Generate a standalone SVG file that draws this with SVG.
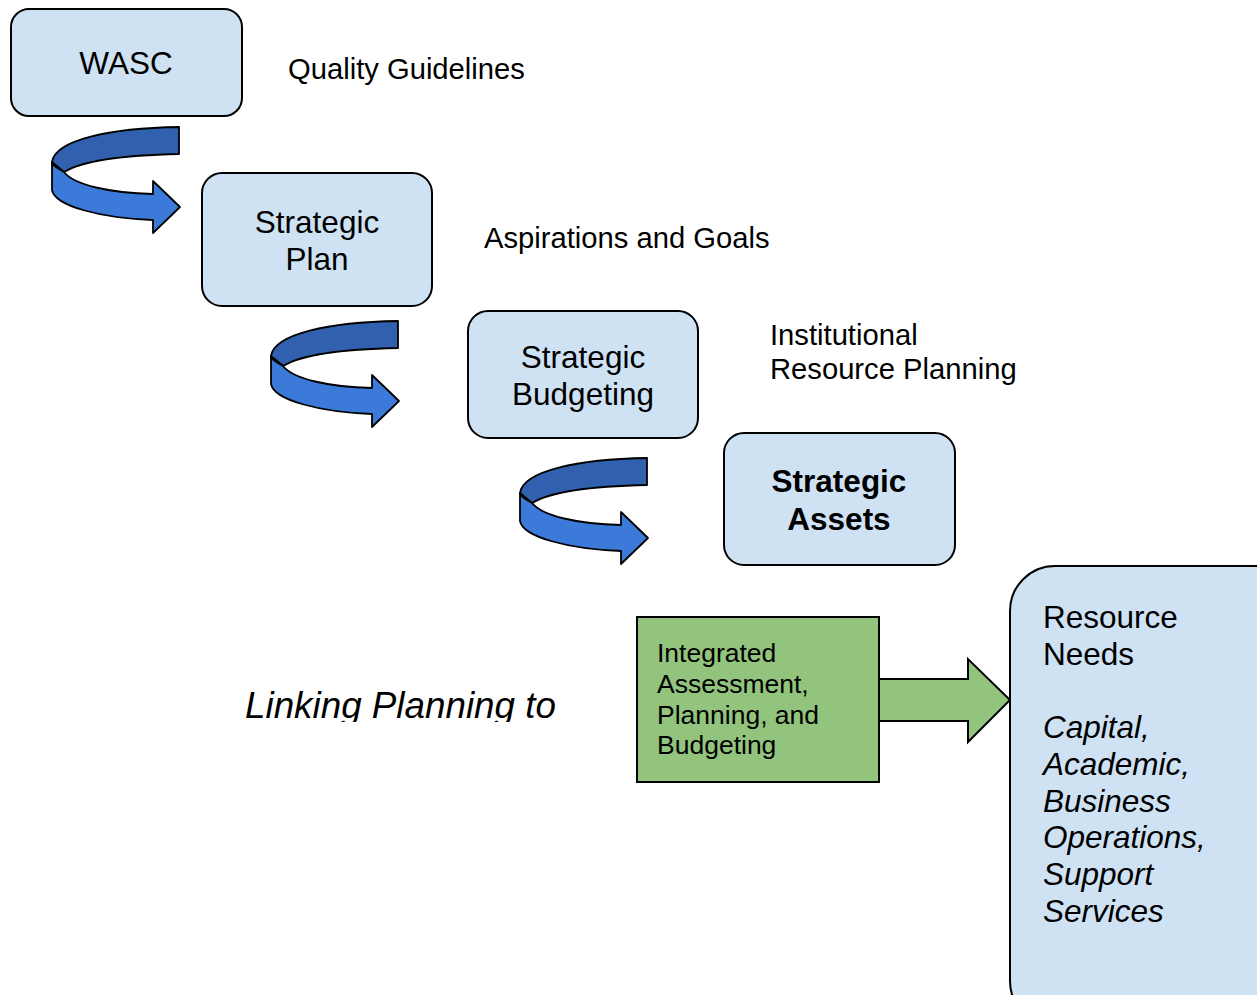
<svg xmlns="http://www.w3.org/2000/svg" xmlns:xlink="http://www.w3.org/1999/xlink" width="1257" height="995" viewBox="0 0 1257 995">
<style>
.box{fill:#cfe2f3;stroke:#000;stroke-width:2}
.t{font-family:"Liberation Sans",Arial,sans-serif;fill:#000}
.bt{font-size:31.5px;text-anchor:middle}
.lb{font-size:29.2px}
.dark{fill:#3060ae;stroke:#000;stroke-width:1.8;stroke-linejoin:round}
.light{fill:#3b7ad8;stroke:#000;stroke-width:1.8;stroke-linejoin:round}
</style>
<defs>
<g id="curl">
<path class="dark" d="M179,127 L179,154 C130,155 84,160 64,172 L52,162 C55,140 110,128 179,127 Z"/>
<path class="light" d="M52,162 L52,190 C55,206 100,218 153,220 L153,233 L180,207 L153,181 L153,194 C110,193 74,185 64,172 C58,168 52,166 52,162 Z"/>
</g>
<clipPath id="clipLink"><rect x="0" y="600" width="640" height="122"/></clipPath>
</defs>
<rect width="1257" height="995" fill="#fff"/>

<g id="connectors">
<use xlink:href="#curl"/>
<use xlink:href="#curl" transform="translate(219,194)"/>
<use xlink:href="#curl" transform="translate(468,331)"/>
<path d="M879,679 L968,679 L968,659 L1010,700 L968,742 L968,721 L879,721" fill="#93c47d" stroke="#000" stroke-width="2" stroke-linejoin="miter"/>
</g>

<g id="wasc">
<rect class="box" x="11" y="9" width="231" height="107" rx="18"/>
<text class="t bt" x="126" y="74">WASC</text>
</g>
<g id="label-quality">
<text class="t lb" x="288" y="79">Quality Guidelines</text>
</g>

<g id="strategic-plan">
<rect class="box" x="202" y="173" width="230" height="133" rx="20"/>
<text class="t bt" x="317" y="233">Strategic</text>
<text class="t bt" x="317" y="270">Plan</text>
</g>
<g id="label-aspirations">
<text class="t lb" x="484" y="248">Aspirations and Goals</text>
</g>

<g id="strategic-budgeting">
<rect class="box" x="468" y="311" width="230" height="127" rx="20"/>
<text class="t bt" x="583" y="368">Strategic</text>
<text class="t bt" x="583" y="405">Budgeting</text>
</g>
<g id="label-institutional">
<text class="t lb" x="770" y="345">Institutional</text>
<text class="t lb" x="770" y="379">Resource Planning</text>
</g>

<g id="strategic-assets">
<rect class="box" x="724" y="433" width="231" height="132" rx="20"/>
<text class="t bt" x="839" y="492" font-weight="bold">Strategic</text>
<text class="t bt" x="839" y="530" font-weight="bold">Assets</text>
</g>

<g id="integrated">
<rect x="637" y="617" width="242" height="165" fill="#93c47d" stroke="#000" stroke-width="2"/>
<text class="t" font-size="26.5" x="657" y="662">Integrated</text>
<text class="t" font-size="26.5" x="657" y="693">Assessment,</text>
<text class="t" font-size="26.5" x="657" y="724">Planning, and</text>
<text class="t" font-size="26.5" x="657" y="754">Budgeting</text>
</g>

<g id="resource-needs">
<rect class="box" x="1010" y="566" width="290" height="460" rx="45"/>
<text class="t" font-size="31.5" x="1043" y="628">Resource</text>
<text class="t" font-size="31.5" x="1043" y="665">Needs</text>
<g font-style="italic">
<text class="t" font-size="31.5" x="1043" y="738">Capital,</text>
<text class="t" font-size="31.5" x="1043" y="775">Academic,</text>
<text class="t" font-size="31.5" x="1043" y="812">Business</text>
<text class="t" font-size="31.5" x="1043" y="848">Operations,</text>
<text class="t" font-size="31.5" x="1043" y="885">Support</text>
<text class="t" font-size="31.5" x="1043" y="922">Services</text>
</g>
</g>

<g id="label-linking" clip-path="url(#clipLink)">
<text class="t" font-size="36.8" font-style="italic" x="245" y="718">Linking Planning to</text>
</g>
</svg>
